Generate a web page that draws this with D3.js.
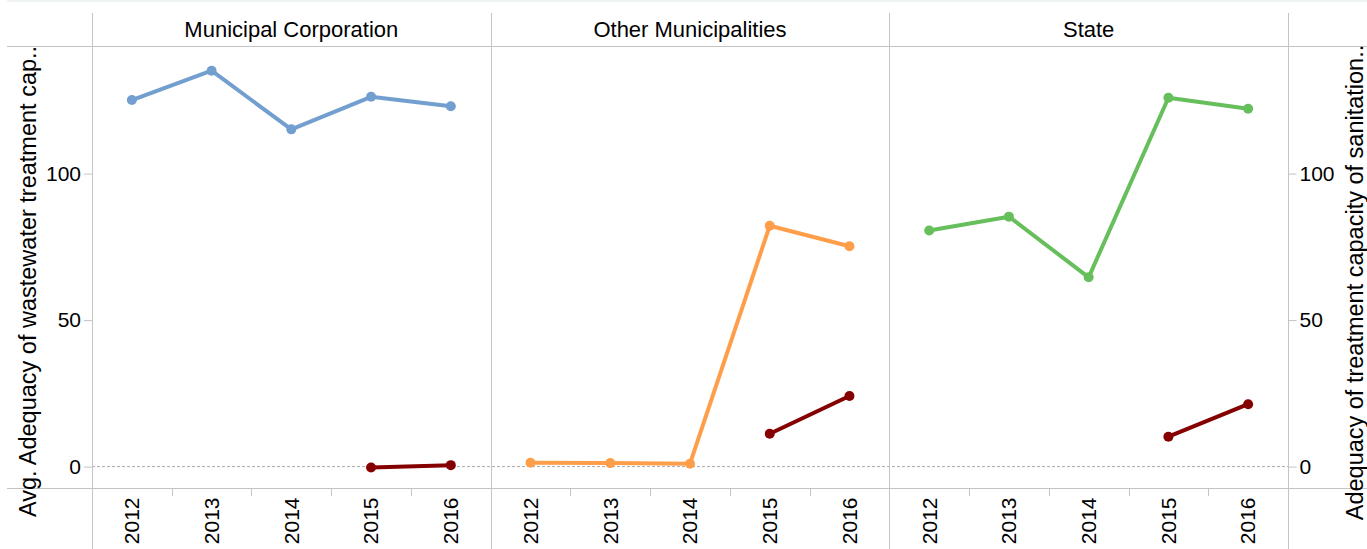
<!DOCTYPE html>
<html>
<head>
<meta charset="utf-8">
<script src="https://cdn.jsdelivr.net/npm/d3@7"></script>
<style>
  body { margin: 0; background: #fff; }
  text { font-family: "Liberation Sans", Arial, sans-serif; fill: #000; }
</style>
</head>
<body>
<div id="chart"></div>
<script>
const years = [2012, 2013, 2014, 2015, 2016];
const facets = ["Municipal Corporation", "Other Municipalities", "State"];
const yTicks = [0, 50, 100];

// avg adequacy of wastewater treatment capacity (left axis)
const mcAvg = [125.1, 135.1, 115.1, 126.2, 123.0];
const omAvg = [1.3, 1.2, 1.0, 82.2, 75.2];
const stateAvg = [80.6, 85.3, 64.6, 125.9, 122.1];

// adequacy of treatment capacity of sanitation (right axis)
const mcSan = [null, null, null, -0.3, 0.5];
const omSan = [null, null, null, 11.2, 24.1];
const stateSan = [null, null, null, 10.2, 21.3];

const facetColors = ["#729fcf", "#ff9e4a", "#67bf5c"];
const sanColor = "#850000";

const W = 1367, H = 549;
const plotL = 92, plotR = 1288, plotT = 47, plotB = 488;
const panelW = (plotR - plotL) / facets.length;
const fs = "21px";

const svg = d3.select("#chart").append("svg")
  .attr("width", W)
  .attr("height", H);

const frame = "#c4c4c4";

// faint band at the very top
svg.append("rect")
  .attr("x", 7).attr("y", 0)
  .attr("width", W - 7).attr("height", 2)
  .attr("fill", "#edf4f3");

const y = d3.scaleLinear()
  .domain([-7.3, 143.2])
  .range([plotB, plotT]);

const facetX = d3.scaleBand()
  .domain(facets)
  .range([plotL, plotR]);

// zero reference line
svg.append("line")
  .attr("x1", plotL).attr("x2", plotR)
  .attr("y1", y(0)).attr("y2", y(0))
  .attr("stroke", "#a8a8a8")
  .attr("stroke-dasharray", "3,2")
  .attr("stroke-width", 1);

// frame lines
svg.append("line")
  .attr("x1", 7).attr("x2", W)
  .attr("y1", plotT - 0.5).attr("y2", plotT - 0.5)
  .attr("stroke", frame);
svg.append("line")
  .attr("x1", 7).attr("x2", W)
  .attr("y1", plotB + 0.5).attr("y2", plotB + 0.5)
  .attr("stroke", frame);

[plotL, ...facets.map(f => facetX(f) + panelW)].forEach(x => {
  svg.append("line")
    .attr("x1", Math.round(x) + 0.5).attr("x2", Math.round(x) + 0.5)
    .attr("y1", 13).attr("y2", H)
    .attr("stroke", frame);
});

// left y axis
const yAxisL = svg.append("g")
  .attr("transform", `translate(${plotL},0)`)
  .call(d3.axisLeft(y).tickValues(yTicks).tickSize(8).tickPadding(3));
yAxisL.select(".domain").remove();
yAxisL.selectAll("line").attr("stroke", frame);
yAxisL.selectAll("text")
  .attr("font-size", fs)
  .attr("font-family", "Liberation Sans, Arial, sans-serif")
  .attr("fill", "#000");

// right y axis
const yAxisR = svg.append("g")
  .attr("transform", `translate(${plotR + 0.5},0)`)
  .call(d3.axisRight(y).tickValues(yTicks).tickSize(8).tickPadding(3));
yAxisR.select(".domain").remove();
yAxisR.selectAll("line").attr("stroke", frame);
yAxisR.selectAll("text")
  .attr("font-size", fs)
  .attr("font-family", "Liberation Sans, Arial, sans-serif")
  .attr("fill", "#000");

// axis titles
svg.append("text")
  .attr("transform", `translate(36,281.5) rotate(-90)`)
  .attr("text-anchor", "middle")
  .attr("font-size", "23.5px")
  .text("Avg. Adequacy of wastewater treatment cap..");

svg.append("text")
  .attr("transform", `translate(1363,282.5) rotate(-90)`)
  .attr("text-anchor", "middle")
  .attr("font-size", "23.5px")
  .text("Adequacy of treatment capacity of sanitation..");

const seriesAvg = [mcAvg, omAvg, stateAvg];
const seriesSan = [mcSan, omSan, stateSan];

const line = d3.line()
  .defined(d => d.v != null)
  .x(d => d.x)
  .y(d => y(d.v));

facets.forEach((f, i) => {
  const x0 = facetX(f);
  const x = d3.scaleBand()
    .domain(years)
    .range([x0, x0 + panelW]);

  // header
  svg.append("text")
    .attr("x", x0 + panelW / 2)
    .attr("y", 37)
    .attr("text-anchor", "middle")
    .attr("font-size", "22px")
    .text(f);

  // year axis
  const xAxis = svg.append("g")
    .attr("transform", `translate(0,${plotB + 0.5})`)
    .call(d3.axisBottom(x).tickSize(0).tickPadding(0));
  xAxis.select(".domain").remove();
  xAxis.selectAll("text")
    .attr("font-size", fs)
    .attr("font-family", "Liberation Sans, Arial, sans-serif")
    .attr("fill", "#000")
    .attr("text-anchor", "end")
    .attr("transform", "rotate(-90)")
    .attr("x", -9)
    .attr("y", 0)
    .attr("dy", "0.35em");

  // separator ticks between years
  svg.append("g")
    .selectAll("line")
    .data(years.slice(1))
    .join("line")
    .attr("x1", d => Math.round(x(d)) + 0.5)
    .attr("x2", d => Math.round(x(d)) + 0.5)
    .attr("y1", plotB)
    .attr("y2", plotB + 8)
    .attr("stroke", frame);

  const cx = yr => x(yr) + x.bandwidth() / 2;

  [[seriesAvg[i], facetColors[i]], [seriesSan[i], sanColor]].forEach(([vals, col]) => {
    const pts = years.map((yr, j) => ({ x: cx(yr), v: vals[j] }));
    svg.append("path")
      .datum(pts)
      .attr("d", line)
      .attr("fill", "none")
      .attr("stroke", col)
      .attr("stroke-width", 4)
      .attr("stroke-linejoin", "round");
    svg.append("g")
      .selectAll("circle")
      .data(pts.filter(d => d.v != null))
      .join("circle")
      .attr("cx", d => d.x)
      .attr("cy", d => y(d.v))
      .attr("r", 5)
      .attr("fill", col);
  });
});
</script>
</body>
</html>
